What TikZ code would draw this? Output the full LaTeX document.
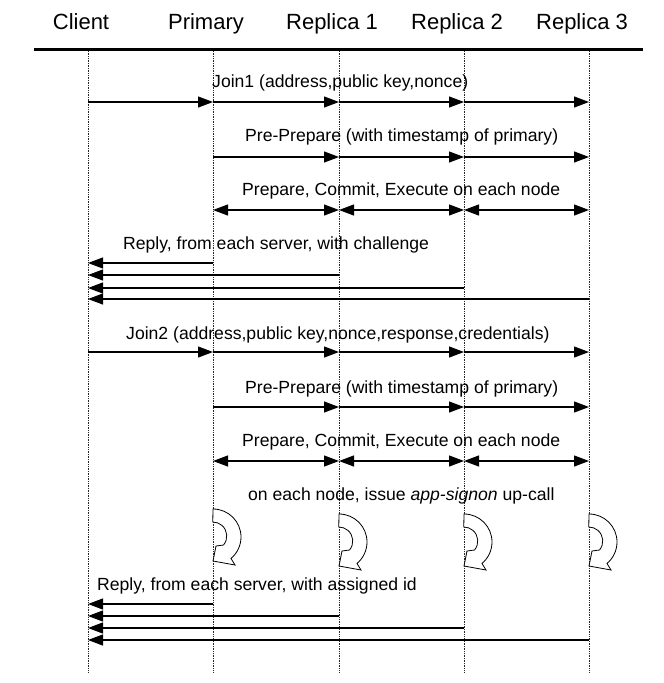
\documentclass[tikz,border=0pt]{standalone}
\usepackage{fontspec}
\setmainfont{Liberation Sans}
\usetikzlibrary{positioning, calc, arrows.meta}

\tikzset{
    msg/.style={line width=1.2pt, -{Triangle[length=15pt,width=11pt]}},
    both/.style={line width=1.2pt, {Triangle[length=15pt,width=11pt]}-{Triangle[length=15pt,width=11pt]}},
    life/.style={densely dotted, line width=0.7pt, black!85},
    head/.style={font=\fontsize{22}{26}\selectfont, anchor=base, inner sep=0pt},
    lbl/.style={font=\fontsize{17.6}{20}\selectfont, anchor=base west, inner sep=0pt},
    upcall/.pic={
        \draw[fill=white, line width=0.8pt] (0,0) arc[start angle=90, end angle=-50, radius=28pt]
            -- (22,-56) -- (0,-52) -- (3,-37) -- (10.5,-36)
            arc[start angle=-40, end angle=90, radius=14pt] -- cycle;
    }
}

\begin{document}
\begin{tikzpicture}[x=1pt, y=1pt]
            \useasboundingbox (0,0) rectangle (664,-683);
            \node[head] (client) at (81,-29) {Client};
            \node[head] (primary) at (206,-29) {Primary};
            \node[head] (rep1) at (332,-29) {Replica 1};
            \node[head] (rep2) at (457,-29) {Replica 2};
            \node[head] (rep3) at (582,-29) {Replica 3};
            \draw[line width=3pt] (34,-49) -- (643,-49);
            \coordinate (cl) at (88,-51);
            \coordinate (pr) at (213,-51);
            \coordinate (r1) at (339,-51);
            \coordinate (r2) at (464,-51);
            \coordinate (r3) at (589,-51);
            \coordinate (bottom) at (0,-672);
            \draw[life] (cl) -- (cl |- bottom);
            \draw[life] (pr) -- (pr |- bottom);
            \draw[life] (r1) -- (r1 |- bottom);
            \draw[life] (r2) -- (r2 |- bottom);
            \draw[life] (r3) -- (r3 |- bottom);

            \node[lbl] (join1) at (212,-87) {Join1 (address,public key,nonce)};
            \coordinate (jn1) at (0,-102);
            \draw[msg] (cl |- jn1) -- (pr |- jn1);
            \draw[msg] (pr |- jn1) -- (r1 |- jn1);
            \draw[msg] (r1 |- jn1) -- (r2 |- jn1);
            \draw[msg] (r2 |- jn1) -- (r3 |- jn1);

            \node[lbl] (pre1) at (245,-141) {Pre-Prepare (with timestamp of primary)};
            \coordinate (pp1) at (0,-157);
            \draw[msg] (pr |- pp1) -- (r1 |- pp1);
            \draw[msg] (r1 |- pp1) -- (r2 |- pp1);
            \draw[msg] (r2 |- pp1) -- (r3 |- pp1);

            \node[lbl] (prep1) at (242,-195) {Prepare, Commit, Execute on each node};
            \coordinate (pc1) at (0,-210);
            \draw[both] (pr |- pc1) -- (r1 |- pc1);
            \draw[both] (r1 |- pc1) -- (r2 |- pc1);
            \draw[both] (r2 |- pc1) -- (r3 |- pc1);

            \node[lbl] (reply1) at (123,-249) {Reply, from each server, with challenge};
            \coordinate (ra) at (0,-263);
            \coordinate (rb) at (0,-275);
            \coordinate (rc) at (0,-288);
            \coordinate (rd) at (0,-299);
            \draw[msg] (pr |- ra) -- (cl |- ra);
            \draw[msg] (r1 |- rb) -- (cl |- rb);
            \draw[msg] (r2 |- rc) -- (cl |- rc);
            \draw[msg] (r3 |- rd) -- (cl |- rd);

            \node[lbl] (join2) at (126,-339) {Join2 (address,public key,nonce,response,credentials)};
            \coordinate (jn2) at (0,-352);
            \draw[msg] (cl |- jn2) -- (pr |- jn2);
            \draw[msg] (pr |- jn2) -- (r1 |- jn2);
            \draw[msg] (r1 |- jn2) -- (r2 |- jn2);
            \draw[msg] (r2 |- jn2) -- (r3 |- jn2);

            \node[lbl] (pre2) at (245,-393) {Pre-Prepare (with timestamp of primary)};
            \coordinate (pp2) at (0,-407);
            \draw[msg] (pr |- pp2) -- (r1 |- pp2);
            \draw[msg] (r1 |- pp2) -- (r2 |- pp2);
            \draw[msg] (r2 |- pp2) -- (r3 |- pp2);

            \node[lbl] (prep2) at (242,-446) {Prepare, Commit, Execute on each node};
            \coordinate (pc2) at (0,-461);
            \draw[both] (pr |- pc2) -- (r1 |- pc2);
            \draw[both] (r1 |- pc2) -- (r2 |- pc2);
            \draw[both] (r2 |- pc2) -- (r3 |- pc2);

            \node[lbl] (signon) at (248,-500) {on each node, issue \textit{app-signon} up-call};
            \coordinate (uc) at (0,-514);
            \pic at ($(pr |- uc)+(0,5)$) {upcall};
            \pic at (r1 |- uc) {upcall};
            \pic at (r2 |- uc) {upcall};
            \pic at (r3 |- uc) {upcall};

            \node[lbl] (reply2) at (97,-590) {Reply, from each server, with assigned id};
            \coordinate (sa) at (0,-604);
            \coordinate (sb) at (0,-616);
            \coordinate (sc) at (0,-628);
            \coordinate (sd) at (0,-640);
            \draw[msg] (pr |- sa) -- (cl |- sa);
            \draw[msg] (r1 |- sb) -- (cl |- sb);
            \draw[msg] (r2 |- sc) -- (cl |- sc);
            \draw[msg] (r3 |- sd) -- (cl |- sd);
        \end{tikzpicture}
\end{document}
